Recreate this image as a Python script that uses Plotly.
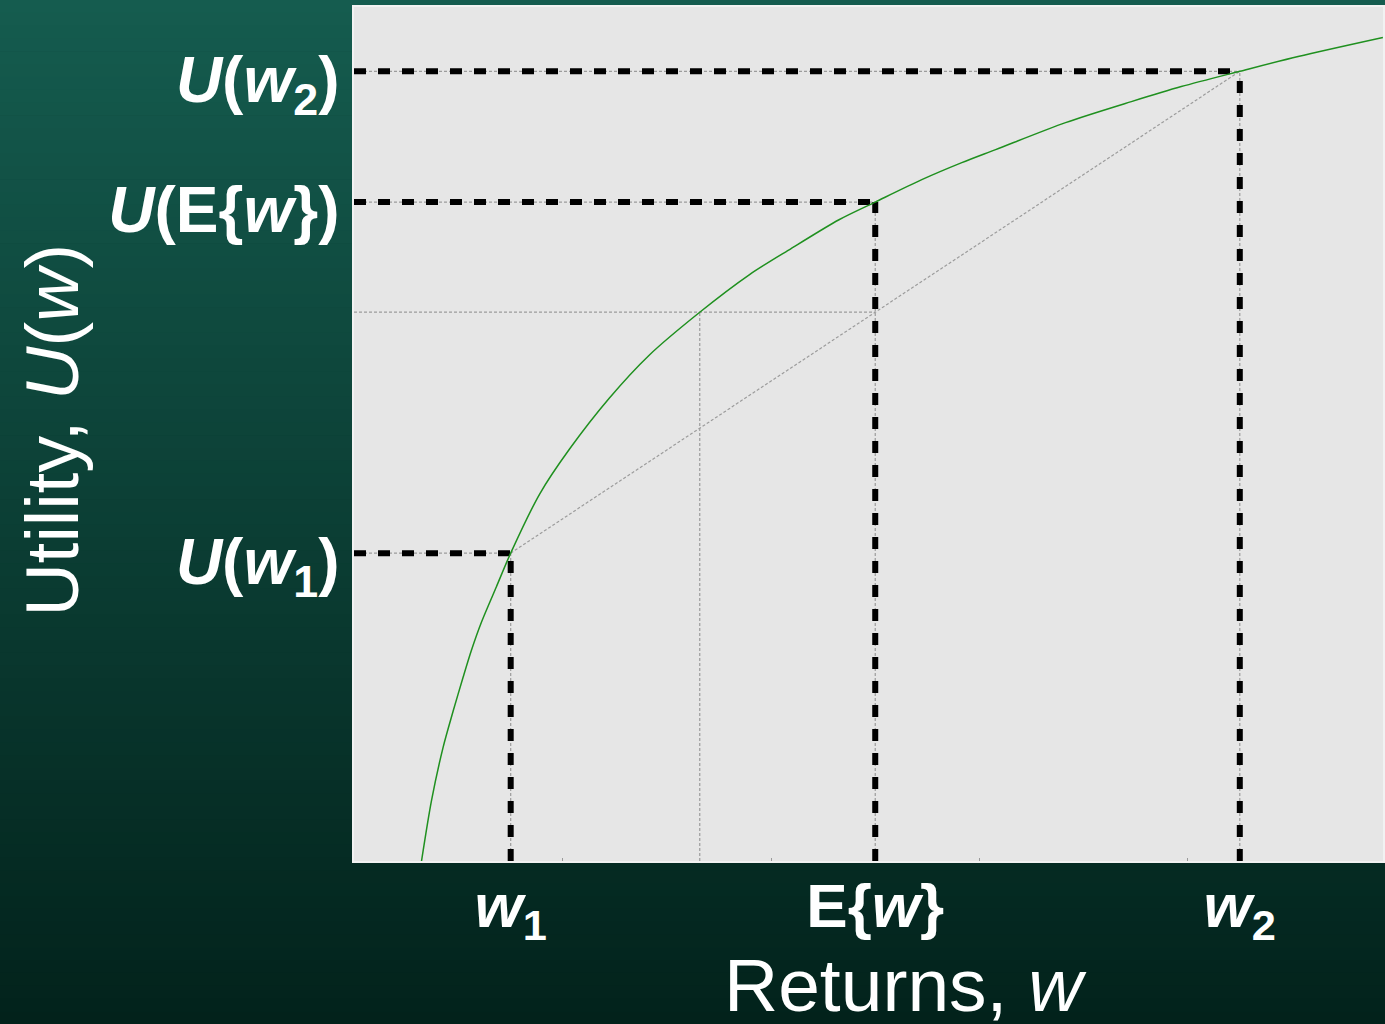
import plotly.graph_objects as go

# ---- data ----
W1, EW, W2 = 1.5, 5.0, 8.5          # returns: w1, E{w}, w2
CE = 3.315                          # certainty-equivalent return
U1, UE, U2 = 3.605, 7.716, 9.247    # U(w1), U(E{w}), U(w2)
EU = 6.426                          # expected utility (midpoint of chord)

curve_w = [0.644, 0.740, 0.851, 0.947, 1.043, 1.123, 1.219, 1.363, 1.5, 1.778,
           2.065, 2.448, 2.832, 3.315, 3.790, 4.173, 4.652, 5.0, 5.447, 5.831,
           6.156, 6.827, 7.459, 7.938, 8.5, 9.060, 9.874]
curve_u = [0.0, 0.709, 1.331, 1.753, 2.151, 2.468, 2.796, 3.212, 3.605, 4.297,
           4.824, 5.422, 5.926, 6.426, 6.864, 7.157, 7.509, 7.716, 7.978, 8.177,
           8.330, 8.646, 8.892, 9.068, 9.247, 9.420, 9.643]

x_tick_vals = [W1, EW, W2]
x_tick_text = ["<i>w</i><sub>1</sub>", "E{<i>w</i>}", "<i>w</i><sub>2</sub>"]
y_tick_vals = [U1, UE, U2]
y_tick_text = ["<i>U</i>(<i>w</i><sub>1</sub>)", "<i>U</i>(E{<i>w</i>})",
               "<i>U</i>(<i>w</i><sub>2</sub>)"]
minor_ticks = [2, 4, 6, 8]

X_RANGE = [-0.0044, 9.875]
Y_RANGE = [0.0, 10.0]

FONT = "Liberation Sans, Arial, sans-serif"
GRAY = "#9c9c9c"
GREEN = "#1f901f"

fig = go.Figure()

def seg(xs, ys, color, width, dash):
    fig.add_trace(go.Scatter(x=xs, y=ys, mode="lines", hoverinfo="skip",
                             line=dict(color=color, width=width, dash=dash),
                             showlegend=False))

x0 = X_RANGE[0]
y0 = Y_RANGE[0]
# thin gray dotted guides
for w, u in [(W1, U1), (EW, UE), (W2, U2)]:
    seg([x0, w], [u, u], GRAY, 1.2, "3px,2px")
    seg([w, w], [y0, u], GRAY, 1.2, "3px,2px")
seg([x0, EW], [EU, EU], GRAY, 1.2, "3px,2px")
seg([CE, CE], [y0, EU], GRAY, 1.2, "3px,2px")
seg([W1, W2], [U1, U2], GRAY, 1.2, "3px,2px")

# thick black dashed lines
for w, u in [(W1, U1), (EW, UE), (W2, U2)]:
    seg([x0, w], [u, u], "black", 6, "12px,12px")
    seg([w, w], [y0, u], "black", 6, "12px,12px")

# utility curve
fig.add_trace(go.Scatter(x=curve_w, y=curve_u, mode="lines", hoverinfo="skip",
                         line=dict(color=GREEN, width=1.5, shape="spline", smoothing=0.8),
                         showlegend=False))

# background gradient (stripes) + plot area
shapes = []
N = 80
top_c = (21, 92, 79)
bot_c = (2, 34, 27)
H = 1024.0
plot_top, plot_bot = 7.0, 861.0
ph = plot_bot - plot_top
for i in range(N):
    py0 = H * i / N
    py1 = H * (i + 1) / N + 0.6
    t = (i + 0.5) / N
    c = tuple(round(top_c[k] + (bot_c[k] - top_c[k]) * t) for k in range(3))
    shapes.append(dict(type="rect", xref="paper", yref="paper",
                       x0=-1, x1=2,
                       y0=(plot_bot - py1) / ph, y1=(plot_bot - py0) / ph,
                       fillcolor="rgb(%d,%d,%d)" % c, line=dict(width=0),
                       layer="below"))
shapes.append(dict(type="rect", xref="paper", yref="paper", x0=0, x1=1, y0=0, y1=1,
                   fillcolor="#e6e6e6", line=dict(width=0), layer="below"))

fig.update_layout(
    width=1385, height=1024,
    margin=dict(l=354, r=0, t=7, b=163, pad=0),
    paper_bgcolor="rgb(10,60,50)",
    plot_bgcolor="#e6e6e6",
    shapes=shapes,
    font=dict(family=FONT, color="white"),
    xaxis=dict(range=X_RANGE, showgrid=False, zeroline=False,
               tickmode="array", tickvals=x_tick_vals, ticktext=x_tick_text,
               ticks="", tickfont=dict(family=FONT, size=62, color="white", weight="bold"),
               ticklabelstandoff=-10,
               showline=True, linecolor="#f2f2f2", linewidth=1.5, mirror=True,
               minor=dict(tickmode="array", tickvals=minor_ticks, ticks="inside",
                          ticklen=3, tickcolor="#9a9a9a", tickwidth=1)),
    yaxis=dict(range=Y_RANGE, showgrid=False, zeroline=False,
               tickmode="array", tickvals=y_tick_vals, ticktext=y_tick_text,
               ticks="", tickfont=dict(family=FONT, size=64, color="white", weight="bold"),
               ticklabelstandoff=0, ticklabelshift=8,
               showline=True, linecolor="#f2f2f2", linewidth=1.5, mirror=True),
    annotations=[
        dict(text="Returns, <i>w</i>", xref="paper", yref="paper",
             x=(907 - 354) / 1031, y=(861 - 985) / 854, xanchor="center", yanchor="middle",
             showarrow=False, font=dict(family=FONT, size=75, color="white")),
        dict(text="Utility, <i>U</i>(<i>w</i>)", xref="paper", yref="paper",
             x=(51 - 354) / 1031, y=(861 - 430) / 854, xanchor="center", yanchor="middle",
             textangle=-90, showarrow=False,
             font=dict(family=FONT, size=74, color="white")),
    ],
)

fig.write_html("out.html", config={"displayModeBar": False},
               post_script="document.body.style.margin='0';document.body.style.overflow='hidden';")
